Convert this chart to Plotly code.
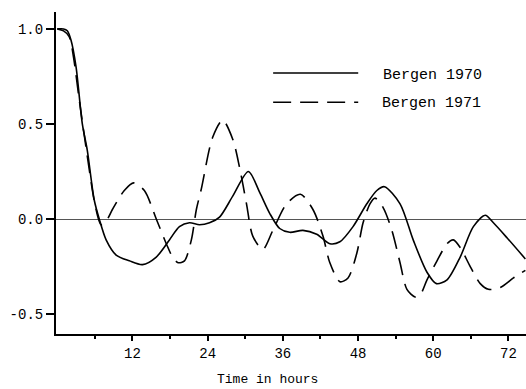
import plotly.graph_objects as go

# Bergen 1970 (solid)
x1970 = [0, 1.0, 1.6, 2.2, 3.0, 4.0, 4.8, 5.9, 6.7, 7.8, 9.4, 11.5, 13.6, 15.8, 17.9, 19.5, 21.1,
         22.7, 24.3, 25.9, 28.0, 30.5, 32.3, 33.9, 35.5, 37.1, 39.2, 41.4, 43.5, 45.1, 47.2,
         49.4, 51.0, 52.2, 54.7, 56.8, 59.0, 60.5, 62.2, 64.3, 66.4, 68.3, 69.6, 71.8, 74.7]
y1970 = [1.0, 1.0, 0.99, 0.94, 0.80, 0.50, 0.36, 0.10, 0.0, -0.11, -0.19, -0.22, -0.24, -0.20, -0.11,
         -0.04, -0.02, -0.03, -0.02, 0.01, 0.12, 0.25, 0.14, 0.03, -0.05, -0.07, -0.06, -0.08,
         -0.13, -0.12, -0.04, 0.08, 0.15, 0.17, 0.08, -0.11, -0.28, -0.34, -0.32, -0.20,
         -0.04, 0.02, -0.02, -0.10, -0.21]

# Bergen 1971 (dashed)
x1971 = [0, 1.0, 1.9, 2.6, 3.5, 4.8, 6.0, 7.0, 8.0, 8.8, 10.7, 12.2, 13.9, 15.8, 17.4, 18.4, 19.3,
         20.3, 21.4, 22.2, 23.0, 24.8, 26.4, 28.0, 29.1, 30.2, 31.2, 32.8, 34.4, 36.6, 38.8,
         40.8, 42.4, 43.5, 45.1, 46.4, 47.8, 48.8, 49.9, 50.7, 52.0, 53.4, 54.7, 55.8, 57.1,
         57.9, 59.0, 60.6, 62.2, 63.2, 64.3, 65.9, 67.5, 68.8, 70.7, 72.8, 74.7]
y1971 = [1.0, 0.99, 0.96, 0.85, 0.63, 0.33, 0.08, -0.03, 0.0, 0.05, 0.15, 0.19, 0.15, 0.0, -0.13,
         -0.20, -0.23, -0.22, -0.11, 0.05, 0.16, 0.43, 0.52, 0.42, 0.27, 0.08, -0.09, -0.16,
         -0.06, 0.08, 0.13, 0.05, -0.09, -0.23, -0.33, -0.31, -0.18, -0.02, 0.08, 0.11, 0.06,
         -0.06, -0.23, -0.37, -0.41, -0.40, -0.32, -0.22, -0.13, -0.11, -0.15, -0.25, -0.34,
         -0.37, -0.36, -0.31, -0.27]

series_names = ["Bergen 1970", "Bergen 1971"]
x_ticks = [12, 24, 36, 48, 60, 72]
y_ticks = [1.0, 0.5, 0.0, -0.5]
y_tick_labels = ["1.0", "0.5", "0.0", "-0.5"]

mono = "Liberation Mono, Courier New, monospace"

fig = go.Figure()
fig.add_trace(go.Scatter(x=x1970, y=y1970, mode="lines", name=series_names[0],
                         line=dict(color="black", width=1.6, shape="spline", smoothing=0.8),
                         showlegend=False))
fig.add_trace(go.Scatter(x=x1971, y=y1971, mode="lines", name=series_names[1],
                         line=dict(color="black", width=1.6, shape="spline", smoothing=0.8,
                                   dash="18px,9px"),
                         showlegend=False))

# legend drawn manually
fig.add_shape(type="line", xref="paper", yref="paper", x0=0.462, x1=0.643, y0=0.8106, y1=0.8106,
              line=dict(color="black", width=1.5))
fig.add_shape(type="line", xref="paper", yref="paper", x0=0.462, x1=0.643, y0=0.72, y1=0.72,
              line=dict(color="black", width=1.5, dash="18px,9px"))
fig.add_annotation(xref="paper", yref="paper", x=0.691, y=0.804, text=series_names[0],
                   showarrow=False, xanchor="left", yanchor="middle",
                   font=dict(family=mono, size=15, color="black"))
fig.add_annotation(xref="paper", yref="paper", x=0.689, y=0.717, text=series_names[1],
                   showarrow=False, xanchor="left", yanchor="middle",
                   font=dict(family=mono, size=15, color="black"))
fig.add_annotation(xref="paper", yref="paper", x=0.451, y=-0.14, text="Time in hours",
                   showarrow=False, xanchor="center", yanchor="middle",
                   font=dict(family=mono, size=13, color="black"))

fig.update_layout(
    width=526, height=389,
    margin=dict(l=56, r=0, t=12, b=55),
    plot_bgcolor="white", paper_bgcolor="white",
    font=dict(family=mono, size=14, color="black"),
    xaxis=dict(range=[-0.2, 74.8], tickvals=x_ticks, ticktext=[str(v) for v in x_ticks],
               showgrid=False, zeroline=False, showline=True, linecolor="black", linewidth=2,
               ticks="outside", ticklen=5, tickwidth=1.5, tickcolor="black",
               minor=dict(tickvals=[6, 18, 30, 42, 54, 66], ticks="outside", ticklen=3,
                          tickwidth=1.5, tickcolor="black"),
               tickfont=dict(family=mono, size=14)),
    yaxis=dict(range=[-0.605, 1.089], tickvals=y_ticks, ticktext=y_tick_labels,
               showgrid=False, zeroline=True, zerolinecolor="#555555", zerolinewidth=1,
               showline=True, linecolor="black", linewidth=2,
               ticks="outside", ticklen=8, tickwidth=1.5, tickcolor="black",
               tickfont=dict(family=mono, size=14)),
)

fig.write_html("out.html")
